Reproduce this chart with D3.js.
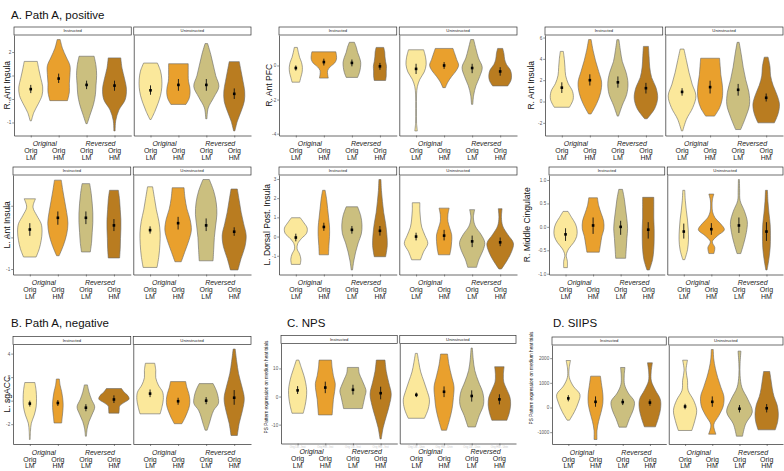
<!DOCTYPE html>
<html>
<head>
<meta charset="utf-8">
<script src="https://cdn.jsdelivr.net/npm/d3@7"></script>
<style>
  body { margin: 0; background: #fff; }
  svg { display: block; font-family: "Liberation Sans", Arial, Helvetica, sans-serif; }
</style>
</head>
<body>
<svg id="fig" width="784" height="471"></svg>
<script>
// ---- shared categories ----
const facets = ["Instructed", "Uninstructed"];
const conditions = ["origLM", "origHM", "revLM", "revHM"];
const groupLabels = ["Original", "Reversed"];
const condTop = ["Orig", "Orig", "Orig", "Orig"];
const condBottom = ["LM", "HM", "LM", "HM"];
const fills = ["#fbe89b", "#e9a02d", "#cbbf7f", "#b97c20"];

// ---- violins: [min, max, mean, ciLo, ciHi, density profile bottom->top]
// first four rows = Instructed, last four = Uninstructed
const rAntInsulaA = [
  [-0.93, 1.60, 0.42, 0.25, 0.60, [0.05, 0.25, 0.6, 0.9, 0.95, 0.8, 0.65, 0.52]],
  [-0.07, 2.53, 0.87, 0.68, 1.08, [0.7, 0.85, 0.85, 0.9, 0.9, 0.6, 0.3, 0.12]],
  [-1.05, 1.82, 0.60, 0.42, 0.78, [0.05, 0.3, 0.55, 0.7, 0.75, 0.8, 0.75, 0.6]],
  [-1.36, 1.75, 0.57, 0.35, 0.78, [0.05, 0.1, 0.35, 0.85, 0.95, 0.8, 0.6, 0.5]],
  [-0.87, 1.53, 0.37, 0.18, 0.58, [0.05, 0.35, 0.6, 0.8, 0.9, 0.9, 0.8, 0.55]],
  [-0.23, 1.50, 0.60, 0.35, 0.85, [0.6, 0.85, 0.93, 0.9, 0.8, 0.78, 0.78, 0.78]],
  [-0.84, 2.36, 0.60, 0.35, 0.85, [0.05, 0.15, 0.6, 1.0, 0.75, 0.55, 0.35, 0.1]],
  [-1.36, 1.59, 0.22, 0.00, 0.45, [0.05, 0.25, 0.55, 0.8, 0.83, 0.7, 0.55, 0.4]]
];
const rAntPFC = [
  [-0.98, 1.06, -0.15, -0.30, 0.00, [0.3, 0.4, 0.5, 0.52, 0.45, 0.3, 0.2, 0.12]],
  [-0.74, 0.80, 0.20, 0.00, 0.40, [0.35, 0.3, 0.3, 0.5, 0.85, 1.0, 1.0, 0.95]],
  [-0.70, 1.36, 0.15, -0.05, 0.35, [0.45, 0.6, 0.68, 0.7, 0.6, 0.45, 0.35, 0.2]],
  [-0.88, 1.06, -0.05, -0.25, 0.15, [0.45, 0.5, 0.5, 0.52, 0.45, 0.4, 0.38, 0.3]],
  [-3.84, 0.92, -0.20, -0.50, 0.10, [0.1, 0.04, 0.03, 0.03, 0.03, 0.04, 0.1, 0.3, 0.65, 0.8, 0.75, 0.6]],
  [-1.30, 1.00, 0.00, -0.20, 0.20, [0.1, 0.3, 0.6, 0.95, 1.15, 1.0, 0.85, 0.7]],
  [-2.28, 1.52, -0.15, -0.45, 0.10, [0.05, 0.12, 0.3, 0.6, 0.8, 0.5, 0.3, 0.12]],
  [-1.20, 1.00, -0.35, -0.60, -0.10, [0.6, 0.85, 0.9, 0.8, 0.5, 0.35, 0.3, 0.2]]
];
const rAntInsulaB = [
  [-0.54, 4.70, 1.30, 0.80, 1.80, [0.6, 0.9, 0.85, 0.5, 0.3, 0.25, 0.2, 0.12]],
  [-1.17, 5.81, 2.00, 1.50, 2.55, [0.1, 0.55, 0.85, 0.93, 0.7, 0.45, 0.25, 0.1]],
  [-1.37, 5.80, 1.80, 1.30, 2.35, [0.05, 0.35, 0.7, 0.8, 0.65, 0.35, 0.2, 0.08]],
  [-1.62, 5.17, 1.25, 0.75, 1.75, [0.1, 0.7, 0.93, 0.8, 0.45, 0.3, 0.25, 0.2]],
  [-2.76, 4.92, 0.90, 0.55, 1.25, [0.05, 0.35, 0.85, 1.1, 0.8, 0.55, 0.35, 0.15]],
  [-1.37, 4.06, 1.35, 0.75, 1.95, [0.35, 0.75, 0.95, 1.0, 0.95, 0.85, 0.8, 0.75]],
  [-2.63, 5.55, 1.10, 0.55, 1.65, [0.2, 0.6, 0.9, 0.85, 0.6, 0.4, 0.25, 0.08]],
  [-2.00, 4.16, 0.35, 0.00, 0.75, [0.65, 0.95, 1.05, 0.85, 0.55, 0.35, 0.3, 0.15]]
];
const lAntInsula = [
  [-0.62, 1.22, 0.25, 0.05, 0.45, [0.5, 0.75, 0.9, 0.97, 0.9, 0.55, 0.25, 0.45]],
  [-0.58, 1.81, 0.62, 0.40, 0.82, [0.1, 0.45, 0.7, 0.8, 0.7, 0.55, 0.4, 0.27]],
  [-0.46, 1.70, 0.62, 0.42, 0.82, [0.35, 0.45, 0.5, 0.55, 0.55, 0.5, 0.42, 0.3]],
  [-0.65, 1.49, 0.38, 0.20, 0.58, [0.45, 0.5, 0.52, 0.55, 0.55, 0.5, 0.45, 0.35]],
  [-0.95, 1.60, 0.23, 0.12, 0.35, [0.55, 0.7, 0.78, 0.8, 0.7, 0.5, 0.35, 0.2]],
  [-0.77, 1.57, 0.45, 0.25, 0.65, [0.25, 0.55, 0.85, 1.05, 0.95, 0.7, 0.55, 0.47]],
  [-0.74, 1.83, 0.38, 0.20, 0.60, [0.55, 0.6, 0.65, 0.75, 0.85, 0.8, 0.6, 0.25]],
  [-1.03, 1.53, 0.18, 0.05, 0.32, [0.3, 0.55, 0.85, 0.95, 0.75, 0.55, 0.4, 0.25]]
];
const lDorsalPostInsula = [
  [-1.45, 0.98, -0.05, -0.25, 0.15, [0.35, 0.4, 0.3, 0.1, 0.15, 0.45, 0.85, 0.9, 0.65, 0.35]],
  [-0.95, 2.41, 0.50, 0.30, 0.72, [0.37, 0.4, 0.45, 0.45, 0.38, 0.3, 0.22, 0.1]],
  [-1.74, 1.55, 0.35, 0.15, 0.55, [0.05, 0.15, 0.3, 0.5, 0.75, 0.8, 0.7, 0.45]],
  [-1.05, 2.97, 0.30, 0.05, 0.55, [0.45, 0.58, 0.55, 0.45, 0.3, 0.2, 0.12, 0.08]],
  [-1.21, 1.76, 0.00, -0.20, 0.20, [0.35, 0.6, 0.93, 0.7, 0.45, 0.35, 0.3, 0.3]],
  [-0.95, 1.48, 0.05, -0.20, 0.35, [0.45, 0.55, 0.6, 0.6, 0.45, 0.3, 0.3, 0.4]],
  [-1.60, 1.40, -0.25, -0.55, 0.05, [0.35, 0.55, 0.85, 1.0, 0.7, 0.25, 0.1, 0.2]],
  [-1.69, 1.45, -0.30, -0.50, -0.05, [0.1, 0.55, 0.9, 1.05, 0.6, 0.2, 0.1, 0.15]]
];
const rMiddleCingulate = [
  [-0.87, 0.33, -0.16, -0.30, -0.03, [0.15, 0.15, 0.06, 0.25, 0.65, 0.9, 0.93, 0.8, 0.5, 0.2]],
  [-0.54, 0.62, 0.03, -0.15, 0.20, [0.5, 0.6, 0.7, 0.87, 0.85, 0.65, 0.45, 0.35]],
  [-0.67, 0.80, 0.00, -0.17, 0.13, [0.4, 0.45, 0.5, 0.56, 0.5, 0.4, 0.3, 0.15]],
  [-0.92, 0.63, -0.06, -0.25, 0.10, [0.1, 0.35, 0.45, 0.48, 0.48, 0.45, 0.45, 0.45]],
  [-0.70, 0.78, -0.10, -0.25, 0.07, [0.08, 0.3, 0.38, 0.36, 0.3, 0.2, 0.12, 0.08]],
  [-0.57, 0.70, -0.05, -0.17, 0.08, [0.2, 0.28, 0.08, 0.5, 1.05, 0.75, 0.3, 0.1, 0.06, 0.08, 0.2]],
  [-0.57, 1.01, 0.03, -0.13, 0.20, [0.15, 0.4, 0.6, 0.68, 0.45, 0.1, 0.06, 0.04]],
  [-0.92, 0.78, -0.10, -0.30, 0.10, [0.05, 0.2, 0.3, 0.32, 0.3, 0.2, 0.12, 0.08]]
];
const lSgACC = [
  [-3.30, 1.54, -0.25, -0.50, 0.00, [0.03, 0.05, 0.12, 0.35, 0.5, 0.53, 0.5, 0.4]],
  [-1.90, 1.84, -0.20, -0.45, 0.05, [0.3, 0.35, 0.4, 0.42, 0.38, 0.3, 0.18, 0.12]],
  [-3.02, 1.34, -0.60, -0.90, -0.30, [0.04, 0.1, 0.25, 0.5, 0.7, 0.45, 0.25, 0.12]],
  [-1.06, 1.03, 0.10, -0.20, 0.45, [0.4, 0.42, 0.45, 0.8, 1.2, 1.1, 0.8, 0.6]],
  [-1.12, 3.18, 0.60, 0.30, 0.95, [0.8, 0.95, 1.05, 1.0, 0.65, 0.45, 0.45, 0.37]],
  [-1.96, 1.62, -0.05, -0.35, 0.25, [0.3, 0.55, 0.75, 0.9, 0.93, 0.85, 0.7, 0.6]],
  [-2.51, 1.45, 0.00, -0.30, 0.30, [0.08, 0.25, 0.4, 0.6, 0.97, 0.95, 0.8, 0.55]],
  [-2.96, 4.39, 0.25, -0.35, 0.90, [0.25, 0.4, 0.65, 0.8, 0.6, 0.35, 0.2, 0.08]]
];
const nps = [
  [-5.95, 12.98, 2.2, 0.9, 3.7, [0.45, 0.6, 0.7, 0.73, 0.65, 0.5, 0.3, 0.1]],
  [-6.55, 12.98, 3.2, 1.2, 5.3, [0.55, 0.6, 0.65, 0.75, 0.8, 0.65, 0.55, 0.5]],
  [-4.29, 10.36, 2.4, 0.7, 4.2, [0.75, 0.85, 0.95, 1.05, 0.9, 0.7, 0.5, 0.45]],
  [-15.1, 12.98, 1.2, -1.0, 3.5, [0.05, 0.2, 0.45, 0.7, 0.85, 0.65, 0.45, 0.35]],
  [-7.74, 15.36, 0.6, -0.2, 1.4, [0.65, 0.95, 1.05, 0.85, 0.6, 0.35, 0.2, 0.08]],
  [-12.0, 15.12, 1.7, -0.2, 3.6, [0.2, 0.45, 0.65, 0.75, 0.8, 0.6, 0.4, 0.28]],
  [-10.83, 17.26, 0.2, -1.8, 2.2, [0.3, 0.6, 0.95, 0.9, 0.55, 0.25, 0.12, 0.05]],
  [-8.45, 10.6, -1.0, -2.8, 0.8, [0.6, 0.8, 0.9, 0.85, 0.6, 0.35, 0.32, 0.38]]
];
const siips = [
  [-514, 1905, 370, 250, 500, [0.1, 0.5, 0.8, 0.95, 0.4, 0.08, 0.06, 0.18]],
  [-1297, 1270, 230, 30, 450, [0.12, 0.12, 0.25, 0.45, 0.6, 0.6, 0.5, 0.4]],
  [-797, 1622, 220, 100, 350, [0.3, 0.55, 0.85, 0.95, 0.45, 0.15, 0.12, 0.18]],
  [-784, 1811, 200, 70, 330, [0.45, 0.7, 0.87, 0.85, 0.45, 0.12, 0.1, 0.2]],
  [-932, 1918, 40, -70, 150, [0.55, 0.8, 0.95, 0.7, 0.25, 0.2, 0.08, 0.2]],
  [-1081, 2351, 230, 30, 450, [0.3, 0.12, 0.55, 0.9, 0.95, 0.7, 0.45, 0.25, 0.12, 0.08]],
  [-1162, 2284, -50, -200, 100, [0.25, 0.5, 1.05, 0.7, 0.2, 0.05, 0.05, 0.12]],
  [-905, 1459, -30, -200, 140, [0.7, 0.9, 0.95, 0.85, 0.6, 0.45, 0.35, 0.25]]
];

// tick values per panel
const ticksRAntInsulaA = [-1, 0, 1, 2];
const ticksRAntPFC = [-4, -2, 0];
const ticksRAntInsulaB = [-2, 0, 2, 4, 6];
const ticksLAntInsula = [-1, 0, 1];
const ticksLDorsal = [-1, 0, 1, 2, 3];
const ticksCingulate = [-1, -0.5, 0, 0.5, 1];
const ticksSgACC = [-2, 0, 2, 4];
const ticksNPS = [-10, 0, 10];
const ticksSIIPS = [-1000, 0, 1000, 2000];

const sectionTitles = ["A. Path A, positive", "B. Path A, negative", "C. NPS", "D. SIIPS"];

const intFmt = t => String(t);
const decFmt = t => t.toFixed(1);

const panels = [
  { rows: rAntInsulaA, ylab: "R. Ant Insula", ticks: ticksRAntInsulaA, fmt: intFmt },
  { rows: rAntPFC, ylab: "R. Ant PFC", ticks: ticksRAntPFC, fmt: intFmt },
  { rows: rAntInsulaB, ylab: "R. Ant Insula", ticks: ticksRAntInsulaB, fmt: intFmt },
  { rows: lAntInsula, ylab: "L. Ant Insula", ticks: ticksLAntInsula, fmt: intFmt },
  { rows: lDorsalPostInsula, ylab: "L. Dorsal Post. Insula", ticks: ticksLDorsal, fmt: intFmt },
  { rows: rMiddleCingulate, ylab: "R. Middle Cingulate", ticks: ticksCingulate, fmt: decFmt },
  { rows: lSgACC, ylab: "L. sgACC", ticks: ticksSgACC, fmt: intFmt },
  { rows: nps, ylab: "PS Pattern expression on medium heat trials", ticks: ticksNPS, fmt: intFmt, small: true, faint: true },
  { rows: siips, ylab: "PS Pattern expression on medium heat trials", ticks: ticksSIIPS, fmt: intFmt, small: true }
];

// ---- layout (pixel positions of each panel) ----
const layout = [
  { x0: 14, x1: 251, top: 27, bottom: 135.5, titleX: 6.5 },
  { x0: 279, x1: 517, top: 27, bottom: 135.5, titleX: 269 },
  { x0: 545, x1: 783, top: 27, bottom: 135.5, titleX: 530.5 },
  { x0: 13, x1: 251, top: 167, bottom: 274.5, titleX: 6.5 },
  { x0: 279, x1: 517, top: 167, bottom: 274.5, titleX: 267 },
  { x0: 549, x1: 783, top: 167, bottom: 274.5, titleX: 527 },
  { x0: 13, x1: 251, top: 336.5, bottom: 444, titleX: 6.5 },
  { x0: 281, x1: 516, top: 335.5, bottom: 443.5, titleX: 266.5, titleY: 387 },
  { x0: 552, x1: 783, top: 337, bottom: 444, titleX: 531.5, titleY: 378 }
];
const titlePos = [[11, 19], [11, 327], [287, 327], [553, 327]];

const stripH = 8;
const gap = 2.5;

const svg = d3.select("#fig");

// section titles
svg.selectAll(".secTitle")
  .data(sectionTitles)
  .enter().append("text")
  .attr("class", "secTitle")
  .attr("x", (d, i) => titlePos[i][0])
  .attr("y", (d, i) => titlePos[i][1])
  .attr("font-size", 11.5)
  .attr("fill", "#111")
  .text(d => d);

function drawPanel(p, L) {
  const g = svg.append("g");
  const facetW = (L.x1 - L.x0 - gap) / 2;
  const ext = d3.extent(p.rows.flatMap(r => [r[0], r[1]]));
  const pad = (ext[1] - ext[0]) * 0.05;
  const y = d3.scaleLinear()
    .domain([ext[0] - pad, ext[1] + pad])
    .range([L.bottom, L.top + stripH]);

  // y axis title
  const ty = L.titleY || (L.top + stripH + L.bottom) / 2;
  g.append("text")
    .attr("transform", "translate(" + L.titleX + "," + ty + ") rotate(-90)")
    .attr("text-anchor", "middle")
    .attr("dy", "0.35em")
    .attr("font-size", p.small ? 4.7 : 8.6)
    .attr("fill", "#111")
    .text(p.ylab);

  facets.forEach((f, fi) => {
    const fx0 = L.x0 + fi * (facetW + gap);
    const fx1 = fx0 + facetW;
    const x = d3.scalePoint().domain(conditions).range([fx0, fx1]).padding(0.6);
    const w = d3.scaleLinear().domain([0, 1]).range([0, x.step() * 0.45]);
    const fg = g.append("g");

    // strip
    fg.append("rect")
      .attr("x", fx0).attr("y", L.top)
      .attr("width", facetW).attr("height", stripH)
      .attr("fill", "#fff").attr("stroke", "#333").attr("stroke-width", 0.7);
    fg.append("text")
      .attr("x", (fx0 + fx1) / 2).attr("y", L.top + stripH / 2)
      .attr("dy", "0.35em").attr("text-anchor", "middle")
      .attr("font-size", 4.2).attr("fill", "#222")
      .text(f);

    // axes
    const yAxis = d3.axisLeft(y).tickValues(p.ticks).tickSize(fi === 0 ? 1.8 : 0)
      .tickSizeOuter(0).tickPadding(1)
      .tickFormat(fi === 0 ? p.fmt : "");
    const ya = fg.append("g").attr("transform", "translate(" + fx0 + ",0)").call(yAxis);
    const xAxis = d3.axisBottom(x).tickSize(2).tickSizeOuter(0).tickFormat("");
    const xa = fg.append("g").attr("transform", "translate(0," + L.bottom + ")").call(xAxis);
    [ya, xa].forEach(a => {
      a.select(".domain").attr("stroke", "#444").attr("stroke-width", 0.8);
      a.selectAll(".tick line").attr("stroke", "#444").attr("stroke-width", 0.6);
      a.selectAll(".tick text").attr("font-size", 4.6).attr("fill", "#555")
        .attr("font-family", "Liberation Sans, Arial, sans-serif");
    });

    // faint leftover tick labels (NPS panel only)
    if (p.faint) {
      conditions.forEach((c, ci) => {
        fg.append("text")
          .attr("x", x(c)).attr("y", L.bottom + 4.5)
          .attr("text-anchor", "middle").attr("font-size", 2.6).attr("fill", "#c8c8c8")
          .text(condTop[ci] + " " + condBottom[ci] + " - " + facets[fi].slice(0, 4));
      });
    }

    // violins
    const rows = p.rows.slice(fi * 4, fi * 4 + 4);
    rows.forEach((r, ci) => {
      const cx = x(conditions[ci]);
      const prof = r[5].map((d, i) => ({ v: r[0] + i * (r[1] - r[0]) / (r[5].length - 1), d: d }));
      const area = d3.area()
        .curve(d3.curveCatmullRom)
        .y(pt => y(pt.v))
        .x0(pt => cx - w(Math.max(pt.d, 0.02)))
        .x1(pt => cx + w(Math.max(pt.d, 0.02)));
      fg.append("path")
        .attr("d", area(prof))
        .attr("fill", fills[ci])
        .attr("stroke", "#666")
        .attr("stroke-width", 0.6);
      // mean and interval
      fg.append("line")
        .attr("x1", cx).attr("x2", cx)
        .attr("y1", y(r[3])).attr("y2", y(r[4]))
        .attr("stroke", "#111").attr("stroke-width", 0.9);
      fg.append("rect")
        .attr("x", cx - 1.3).attr("y", y(r[2]) - 1.3)
        .attr("width", 2.6).attr("height", 2.6)
        .attr("fill", "#000");
    });

    // category labels under the axis
    [0, 1].forEach(k => {
      fg.append("text")
        .attr("x", (x(conditions[2 * k]) + x(conditions[2 * k + 1])) / 2)
        .attr("y", L.bottom + 10.5)
        .attr("text-anchor", "middle")
        .attr("font-size", 7).attr("font-style", "italic").attr("fill", "#222")
        .text(groupLabels[k]);
    });
    conditions.forEach((c, ci) => {
      fg.append("text")
        .attr("x", x(c)).attr("y", L.bottom + 17.5)
        .attr("text-anchor", "middle").attr("font-size", 7).attr("fill", "#222")
        .text(condTop[ci]);
      fg.append("text")
        .attr("x", x(c)).attr("y", L.bottom + 24)
        .attr("text-anchor", "middle").attr("font-size", 7).attr("fill", "#222")
        .text(condBottom[ci]);
    });
  });
}

panels.forEach((p, i) => drawPanel(p, layout[i]));
</script>
</body>
</html>
